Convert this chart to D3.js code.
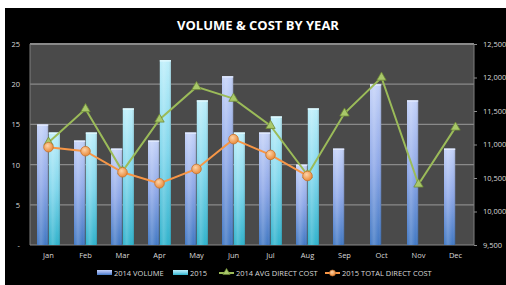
<!DOCTYPE html>
<html>
<head>
<meta charset="utf-8">
<script src="https://cdn.jsdelivr.net/npm/d3@7"></script>
<style>
  body { margin: 0; background: #fff; }
  text { font-family: "Open Sans", "DejaVu Sans", sans-serif; }
</style>
</head>
<body>
<svg width="506" height="285"></svg>
<script>
// chart data
var months = ["Jan", "Feb", "Mar", "Apr", "May", "Jun", "Jul", "Aug", "Sep", "Oct", "Nov", "Dec"];
var vol2014 = [15, 13, 12, 13, 14, 21, 14, 10, 12, 20, 18, 12];
var vol2015 = [14, 14, 17, 23, 18, 14, 16, 17, null, null, null, null];
var avgCost2014 = [11030, 11530, 10600, 11375, 11860, 11685, 11280, 10545, 11465, 12000, 10405, 11255];
var totCost2015 = [10960, 10900, 10585, 10420, 10635, 11080, 10845, 10530, null, null, null, null];
var leftTicks = [0, 5, 10, 15, 20, 25];
var rightTicks = [9500, 10000, 10500, 11000, 11500, 12000, 12500];

var svg = d3.select("svg");
var plot = {left: 30, right: 474, top: 44, bottom: 245};

svg.append("rect").attr("x", 5).attr("y", 8).attr("width", 501).attr("height", 277).attr("fill", "#000");

var defs = svg.append("defs");
function barGrad(id, stops) {
  var g = defs.append("linearGradient").attr("id", id).attr("x1", 0).attr("y1", 0).attr("x2", 0).attr("y2", 1);
  stops.forEach(function(s){ g.append("stop").attr("offset", s[0]).attr("stop-color", s[1]); });
}
barGrad("g2014", [["0%", "#c4d2f8"], ["50%", "#8ea8e8"], ["100%", "#4279c4"]]);
barGrad("g2015", [["0%", "#bdeefa"], ["50%", "#7fd6ec"], ["100%", "#2fb2cc"]]);
var hl = defs.append("linearGradient").attr("id", "shine").attr("x1", 0).attr("y1", 0).attr("x2", 1).attr("y2", 0);
hl.append("stop").attr("offset", "0%").attr("stop-color", "#fff").attr("stop-opacity", 0.0);
hl.append("stop").attr("offset", "35%").attr("stop-color", "#fff").attr("stop-opacity", 0.18);
hl.append("stop").attr("offset", "75%").attr("stop-color", "#fff").attr("stop-opacity", 0.0);
hl.append("stop").attr("offset", "100%").attr("stop-color", "#000").attr("stop-opacity", 0.18);
var og = defs.append("radialGradient").attr("id", "dot").attr("cx", "40%").attr("cy", "35%").attr("r", "65%");
og.append("stop").attr("offset", "0%").attr("stop-color", "#fdd3a8");
og.append("stop").attr("offset", "100%").attr("stop-color", "#e98a3a");

var x = d3.scaleBand().domain(months).range([plot.left, plot.right]);
var xs = d3.scaleBand().domain(["2014", "2015"]).range([7, 30]).paddingInner(0.05);
var yL = d3.scaleLinear().domain([0, 25]).range([plot.bottom, plot.top]);
var yR = d3.scaleLinear().domain([9500, 12500]).range([plot.bottom, plot.top]);

svg.append("rect").attr("x", plot.left).attr("y", plot.top)
  .attr("width", plot.right - plot.left).attr("height", plot.bottom - plot.top)
  .attr("fill", "#4a4a4a");

svg.append("g").selectAll("line").data(leftTicks).enter().append("line")
  .attr("x1", plot.left).attr("x2", plot.right)
  .attr("y1", function(d){return yL(d);}).attr("y2", function(d){return yL(d);})
  .attr("stroke", "#8a8a8a")
  .attr("stroke-width", function(d){return d == 25 ? 2 : 1.2;});

svg.append("line").attr("x1", plot.left).attr("x2", plot.left).attr("y1", plot.top).attr("y2", plot.bottom)
  .attr("stroke", "#7e7e7e");
svg.append("line").attr("x1", plot.right).attr("x2", plot.right).attr("y1", plot.top).attr("y2", plot.bottom)
  .attr("stroke", "#7e7e7e");

// bars
var series = [{key: "2014", vals: vol2014, fill: "url(#g2014)", top: "#e4ecff"},
              {key: "2015", vals: vol2015, fill: "url(#g2015)", top: "#e4faff"}];
series.forEach(function(s) {
  var data = months.map(function(m, i){return {m: m, v: s.vals[i]};}).filter(function(d){return d.v != null;});
  var g = svg.append("g");
  g.selectAll("rect.b").data(data).enter().append("rect")
    .attr("x", function(d){return x(d.m) + xs(s.key);})
    .attr("y", function(d){return yL(d.v);})
    .attr("width", xs.bandwidth())
    .attr("height", function(d){return yL(0) - yL(d.v);})
    .attr("fill", s.fill);
  g.selectAll("rect.s").data(data).enter().append("rect")
    .attr("x", function(d){return x(d.m) + xs(s.key);})
    .attr("y", function(d){return yL(d.v);})
    .attr("width", xs.bandwidth())
    .attr("height", function(d){return yL(0) - yL(d.v);})
    .attr("fill", "url(#shine)");
  g.selectAll("rect.t").data(data).enter().append("rect")
    .attr("x", function(d){return x(d.m) + xs(s.key);})
    .attr("y", function(d){return yL(d.v);})
    .attr("width", xs.bandwidth()).attr("height", 1.5)
    .attr("fill", s.top).attr("opacity", 0.85);
});

function cx(m){return x(m) + x.bandwidth() / 2;}

// 2014 avg cost line
var greenData = months.map(function(m, i){return {m: m, v: avgCost2014[i]};});
svg.append("path").datum(greenData)
  .attr("d", d3.line().x(function(d){return cx(d.m);}).y(function(d){return yR(d.v);}))
  .attr("fill", "none").attr("stroke", "#9bbb59").attr("stroke-width", 2);
svg.append("g").selectAll("path").data(greenData).enter().append("path")
  .attr("d", d3.symbol().type(d3.symbolTriangle).size(38))
  .attr("transform", function(d){return "translate(" + cx(d.m) + "," + yR(d.v) + ")";})
  .attr("fill", "#a9c86a").attr("stroke", "#6f8c36").attr("stroke-width", 0.8);

// 2015 total cost line
var orangeData = months.map(function(m, i){return {m: m, v: totCost2015[i]};}).filter(function(d){return d.v != null;});
svg.append("path").datum(orangeData)
  .attr("d", d3.line().x(function(d){return cx(d.m);}).y(function(d){return yR(d.v);}))
  .attr("fill", "none").attr("stroke", "#f79646").attr("stroke-width", 2);
svg.append("g").selectAll("circle").data(orangeData).enter().append("circle")
  .attr("cx", function(d){return cx(d.m);}).attr("cy", function(d){return yR(d.v);})
  .attr("r", 4.8).attr("fill", "url(#dot)").attr("stroke", "#c8722c").attr("stroke-width", 0.8);

// axes
var axisL = svg.append("g").attr("transform", "translate(" + plot.left + ",0)")
  .call(d3.axisLeft(yL).tickValues(leftTicks).tickSize(0).tickPadding(10)
    .tickFormat(function(d){return d == 0 ? "-" : d;}));
var axisR = svg.append("g").attr("transform", "translate(" + plot.right + ",0)")
  .call(d3.axisRight(yR).tickValues(rightTicks).tickSize(3).tickPadding(6).tickFormat(d3.format(",")));
var axisB = svg.append("g").attr("transform", "translate(0," + plot.bottom + ")")
  .call(d3.axisBottom(x).tickSize(0).tickPadding(8));
[axisL, axisR, axisB].forEach(function(a) {
  a.select(".domain").remove();
  a.selectAll("line").attr("stroke", "#8c8c8c");
  a.selectAll("text").attr("fill", "#d9d9d9").style("font-size", "7.5px").style("font-family", "'Open Sans', sans-serif");
});

// title
svg.append("text").attr("x", 258).attr("y", 30).attr("text-anchor", "middle")
  .attr("fill", "#fff").style("font-size", "13px").style("font-weight", "bold")
  .text("VOLUME & COST BY YEAR");

// legend
var legend = [
  {label: "2014 VOLUME", x: 97, kind: "bar", fill: "url(#g2014)"},
  {label: "2015", x: 173, kind: "bar", fill: "url(#g2015)"},
  {label: "2014 AVG DIRECT COST", x: 219, kind: "tri", color: "#9bbb59"},
  {label: "2015 TOTAL DIRECT COST", x: 325, kind: "dot", color: "#f79646"}
];
var ly = 273;
var lg = svg.append("g").selectAll("g").data(legend).enter().append("g")
  .attr("transform", function(d){return "translate(" + d.x + "," + ly + ")";});
lg.each(function(d) {
  var g = d3.select(this);
  if (d.kind == "bar") {
    g.append("rect").attr("x", 0).attr("y", -3).attr("width", 15).attr("height", 5).attr("fill", d.fill);
  } else {
    g.append("line").attr("x1", 0).attr("x2", 15).attr("y1", 0).attr("y2", 0)
      .attr("stroke", d.color).attr("stroke-width", 2);
    if (d.kind == "tri")
      g.append("path").attr("d", d3.symbol().type(d3.symbolTriangle).size(22)).attr("transform", "translate(7.5,-0.5)")
        .attr("fill", "#a9c86a").attr("stroke", "#6f8c36").attr("stroke-width", 0.6);
    else
      g.append("circle").attr("cx", 7.5).attr("cy", 0).attr("r", 3).attr("fill", "url(#dot)")
        .attr("stroke", "#c8722c").attr("stroke-width", 0.6);
  }
  g.append("text").attr("x", 17).attr("y", 3).attr("fill", "#d9d9d9")
    .style("font-size", "7.5px").text(d.label);
});
</script>
</body>
</html>
